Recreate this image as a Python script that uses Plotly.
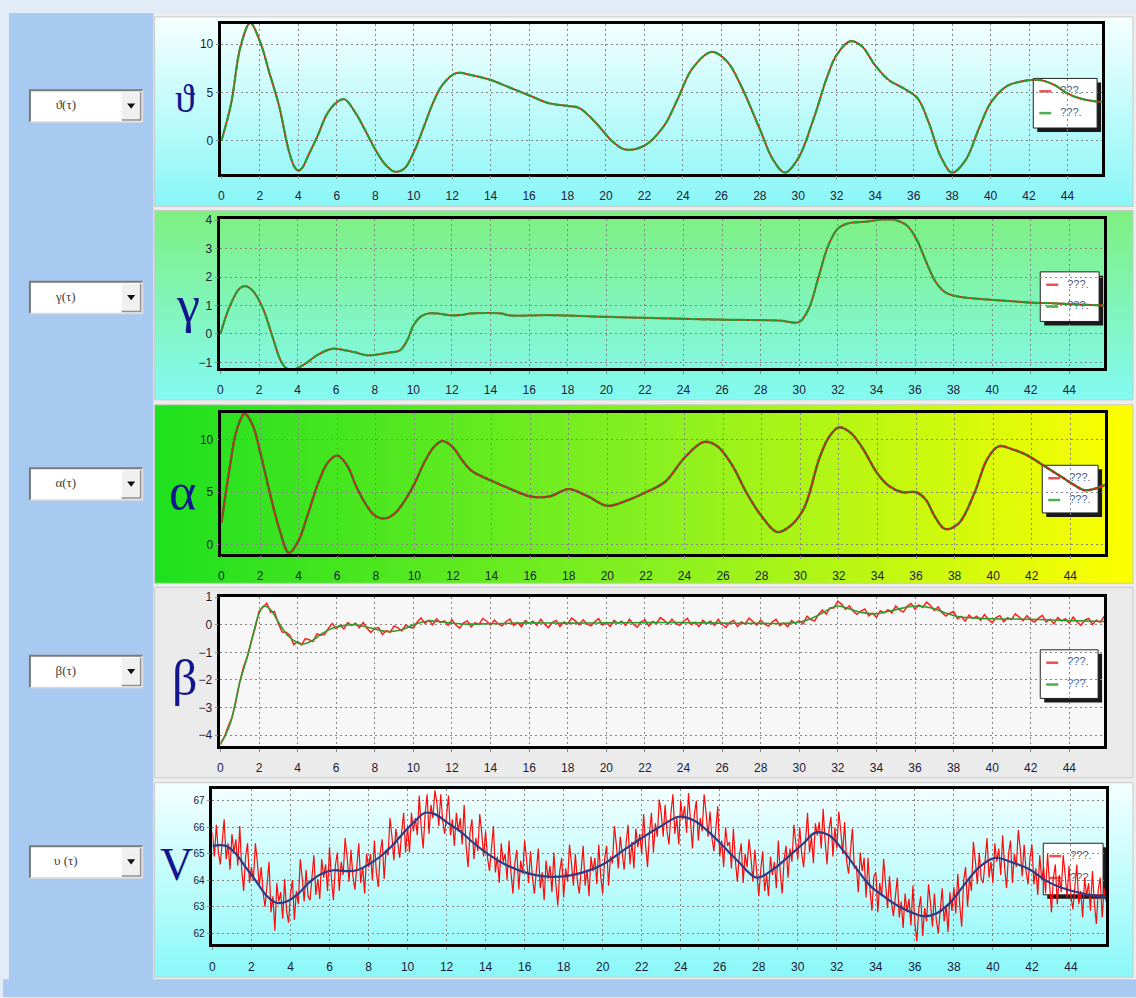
import numpy as np
import plotly.graph_objects as go

W, H = 1136, 998

# ---------------- data ----------------
x_ticks = list(range(0, 45, 2))
t_max = 45.8

theta_t = [0, 0.5, 1.0, 1.5, 2.0, 2.5, 3.0, 3.5, 3.8, 4.0, 4.2, 4.5, 5.0, 5.5, 6.0, 6.4, 7.0, 7.5, 8.0, 8.5,
           9.0, 9.5, 10.0, 10.5, 11.0, 11.5, 12.2, 13.0, 14.0, 15.0, 16.0, 17.0, 18.0, 18.6, 19.5, 20.3, 21.0,
           22.0, 23.0, 23.7, 24.5, 25.5, 26.3, 27.0, 28.0, 28.7, 29.3, 30.0, 30.8, 31.5, 32.0, 32.7, 33.3, 34.0,
           34.7, 35.5, 36.2, 36.8, 37.4, 38.0, 38.7, 39.4, 40.0, 40.8, 41.5, 42.5, 43.3, 44.0, 44.8, 45.8]
theta_v = [0, 3.8, 9.8, 12.2, 10.3, 7.0, 3.6, -1.0, -2.7, -3.1, -2.8, -1.6, 0.5, 2.8, 4.0, 4.3, 2.8, 1.0, -0.9, -2.4,
           -3.2, -2.9, -1.2, 1.3, 3.9, 5.8, 7.0, 6.8, 6.3, 5.5, 4.7, 3.9, 3.6, 3.4, 1.8, 0.0, -0.9,
           -0.5, 1.5, 4.2, 7.5, 9.2, 8.2, 5.8, 1.2, -2.0, -3.3, -1.8, 2.3, 6.6, 8.9, 10.3, 9.8, 7.8,
           6.3, 5.4, 4.4, 1.8, -1.6, -3.3, -2.0, 1.3, 3.9, 5.6, 6.1, 6.3, 5.8, 4.9, 4.3, 4.0]

gamma_t = [0, 0.5, 1.0, 1.3, 1.7, 2.2, 2.7, 3.1, 3.4, 3.7, 4.0, 4.5, 5.0, 5.8, 6.5, 7.0, 7.6, 8.2, 8.8, 9.3,
           9.7, 10.0, 10.4, 10.8, 11.2, 12.0, 12.5, 13.0, 14.5, 15.0, 17.0, 20.0, 23.0, 26.0, 29.0, 30.0, 30.5,
           31.0, 31.5, 32.0, 32.5, 33.5, 34.3, 35.0, 35.6, 36.1, 36.6, 37.1, 37.6, 38.2, 39.0, 40.0, 41.0, 42.0,
           43.0, 44.0, 45.0, 45.8]
gamma_v = [0, 1.0, 1.6, 1.68, 1.5, 0.9, -0.1, -0.9, -1.2, -1.25, -1.2, -1.0, -0.75, -0.52, -0.58, -0.65, -0.75,
           -0.72, -0.65, -0.58, -0.2, 0.3, 0.62, 0.72, 0.72, 0.65, 0.67, 0.72, 0.72, 0.65, 0.66, 0.6, 0.55, 0.5,
           0.47, 0.42, 0.9, 2.0, 3.1, 3.7, 3.88, 3.95, 4.02, 4.0, 3.8, 3.3, 2.5, 1.8, 1.45, 1.32, 1.25, 1.2, 1.15,
           1.1, 1.08, 1.05, 1.02, 1.0]

alpha_t = [0, 0.4, 0.8, 1.2, 1.6, 2.0, 2.5, 3.0, 3.5, 4.0, 4.5, 5.0, 5.5, 6.0, 6.5, 7.0, 7.5, 8.0, 8.5, 9.0,
           9.5, 10.0, 10.5, 11.0, 11.45, 12.0, 12.5, 13.0, 14.0, 15.0, 16.0, 17.0, 18.0, 19.0, 20.0, 21.0, 22.0,
           23.0, 24.0, 25.0, 25.7, 26.5, 27.2, 28.0, 28.8, 29.5, 30.2, 31.0, 31.5, 32.0, 32.6, 33.2, 34.0, 34.6,
           35.3, 36.0, 36.5, 37.0, 37.5, 38.2, 39.0, 39.7, 40.3, 41.0, 41.7, 42.4, 43.0, 43.6, 44.2, 44.7, 45.2, 45.8]
alpha_v = [2.1, 7.0, 11.0, 12.5, 11.5, 8.9, 5.0, 1.5, -0.8, 0.4, 3.0, 5.8, 7.8, 8.5, 7.6, 5.5, 3.8, 2.7, 2.5, 3.0,
           4.2, 5.8, 7.8, 9.3, 9.9, 9.3, 8.0, 7.0, 6.1, 5.3, 4.6, 4.6, 5.3, 4.6, 3.7, 4.2, 5.0,
           6.0, 8.3, 9.8, 9.4, 7.5, 5.0, 2.7, 1.2, 1.8, 3.5, 8.3, 10.3, 11.2, 10.7, 9.3, 6.8, 5.6,
           5.0, 5.0, 4.3, 2.6, 1.5, 2.0, 4.8, 8.2, 9.4, 9.1, 8.6, 7.8, 7.1, 6.4, 5.7, 5.2, 5.3, 5.7]

beta_t = [0, 0.5, 1.0, 1.5, 1.8, 2.0, 2.25, 2.6, 3.0, 3.5, 4.0, 4.3, 4.7, 5.2, 5.7, 6.2, 7.0, 7.8, 8.7, 9.5,
          10.2, 10.8, 11.5, 12.5, 14.0, 16.0, 18.0, 20.0, 22.0, 24.0, 26.0, 28.0, 29.5, 30.3, 31.0, 31.5, 32.0,
          32.5, 33.2, 34.0, 35.0, 36.0, 36.8, 37.5, 38.2, 39.0, 40.0, 42.0, 44.0, 45.8]
beta_v = [-4.35, -3.6, -2.1, -0.9, -0.05, 0.4, 0.68, 0.55, 0.1, -0.4, -0.65, -0.7, -0.6, -0.35, -0.15, -0.05, 0.0,
          -0.12, -0.25, -0.15, 0.05, 0.14, 0.1, 0.03, 0.04, 0.07, 0.06, 0.07, 0.08, 0.08, 0.06, 0.05, 0.06, 0.15,
          0.35, 0.55, 0.68, 0.6, 0.45, 0.4, 0.55, 0.68, 0.62, 0.45, 0.3, 0.25, 0.22, 0.2, 0.15, 0.12]

# measured beta, sampled every 0.2
beta_meas_dt = 0.2
beta_meas = [
    -4.31, -4.08, -3.69, -3.37, -2.80, -2.07, -1.52, -1.14, -0.59, -0.12,
    0.49, 0.63, 0.78, 0.46, 0.48, 0.05, -0.26, -0.27, -0.38, -0.72,
    -0.61, -0.73, -0.50, -0.54, -0.61, -0.33, -0.38, -0.35, -0.12, 0.05,
    -0.14, -0.02, -0.15, 0.08, -0.02, 0.06, -0.11, 0.08, -0.13, -0.28,
    -0.13, -0.10, -0.35, -0.21, -0.27, -0.04, -0.11, -0.22, 0.00, -0.09,
    -0.11, 0.10, 0.25, 0.05, 0.16, 0.00, 0.21, 0.08, 0.14, -0.02,
    0.18, -0.01, -0.12, 0.07, 0.14, -0.08, 0.08, 0.01, 0.23, 0.13,
    -0.01, 0.17, 0.03, -0.04, 0.11, 0.21, -0.02, 0.08, -0.07, 0.15,
    0.05, 0.13, -0.02, 0.20, 0.02, -0.10, 0.09, 0.16, -0.06, 0.10,
    0.03, 0.24, 0.14, 0.00, 0.18, 0.03, -0.04, 0.11, 0.22, -0.01,
    0.09, -0.06, 0.16, 0.05, 0.13, -0.02, 0.20, 0.02, -0.09, 0.10,
    0.18, -0.04, 0.12, 0.05, 0.26, 0.16, 0.02, 0.20, 0.05, -0.02,
    0.13, 0.23, 0.00, 0.09, -0.06, 0.16, 0.05, 0.13, -0.02, 0.20,
    0.01, -0.10, 0.09, 0.16, -0.06, 0.10, 0.03, 0.24, 0.13, -0.01,
    0.17, 0.02, -0.05, 0.10, 0.20, -0.03, 0.07, -0.07, 0.15, 0.05,
    0.15, 0.03, 0.31, 0.19, 0.14, 0.38, 0.53, 0.39, 0.62, 0.61,
    0.86, 0.74, 0.56, 0.69, 0.49, 0.38, 0.50, 0.57, 0.32, 0.42,
    0.27, 0.51, 0.43, 0.55, 0.43, 0.68, 0.54, 0.46, 0.68, 0.77,
    0.56, 0.72, 0.63, 0.82, 0.70, 0.52, 0.65, 0.44, 0.32, 0.42,
    0.48, 0.22, 0.30, 0.14, 0.35, 0.23, 0.31, 0.16, 0.37, 0.19,
    0.08, 0.26, 0.33, 0.11, 0.26, 0.19, 0.40, 0.29, 0.15, 0.33,
    0.17, 0.10, 0.24, 0.34, 0.10, 0.20, 0.04, 0.26, 0.14, 0.22,
    0.06, 0.28, 0.10, -0.02, 0.17, 0.23, 0.01, 0.17, 0.09, 0.30,
]

vel_t = [0, 0.7, 1.2, 1.7, 2.3, 2.8, 3.3, 3.8, 4.4, 5.0, 5.6, 6.2, 6.8, 7.4, 8.0, 8.6, 9.2, 9.8, 10.4, 10.9,
         11.4, 12.0, 12.7, 13.4, 14.2, 15.0, 16.0, 17.0, 18.0, 19.0, 20.0, 21.0, 22.0, 23.0, 23.9, 24.7, 25.4,
         26.1, 26.9, 27.9, 28.8, 29.6, 30.3, 30.9, 31.6, 32.3, 33.0, 33.7, 34.4, 35.1, 35.8, 36.4, 37.1, 37.8,
         38.5, 39.3, 40.1, 40.9, 41.9, 42.8, 43.6, 44.5, 45.2, 45.8]
vel_v = [65.3, 65.3, 65.0, 64.5, 63.9, 63.4, 63.15, 63.2, 63.5, 63.95, 64.25, 64.38, 64.35, 64.38, 64.6, 64.9,
         65.3, 65.8, 66.25, 66.55, 66.5, 66.2, 65.85, 65.4, 64.95, 64.6, 64.3, 64.15, 64.15, 64.3, 64.6, 65.1,
         65.6, 66.05, 66.4, 66.25, 65.85, 65.35, 64.75, 64.1, 64.45, 64.95, 65.4, 65.8, 65.7, 65.15, 64.45, 63.8,
         63.4, 63.05, 62.8, 62.65, 62.75, 63.15, 63.8, 64.5, 64.85, 64.7, 64.4, 63.95, 63.7, 63.52, 63.42, 63.35]

# measured speed, sampled every 0.1
vel_meas_dt = 0.1
vel_meas = [
    65.8, 64.9, 66.1, 65.1, 64.6, 65.6, 66.3, 64.8, 65.4, 64.4,
    65.75, 65.05, 65.55, 64.55, 66.05, 64.4, 63.6, 64.9, 65.4, 63.9,
    64.5, 64.0, 65.4, 64.7, 63.8, 64.5, 63.5, 63.0, 64.0, 64.7,
    62.8, 63.4, 62.1, 63.9, 63.2, 63.55, 62.55, 64.05, 62.85, 62.4,
    63.5, 64.0, 62.5, 63.6, 63.1, 64.8, 64.1, 63.2, 64.4, 63.4,
    63.25, 64.25, 64.95, 63.45, 64.05, 63.3, 64.8, 64.1, 64.6, 63.6,
    65.25, 64.05, 63.25, 64.55, 65.05, 63.6, 64.7, 64.2, 65.6, 64.9,
    63.95, 65.15, 64.15, 63.65, 64.65, 65.4, 63.9, 64.5, 63.5, 65.0,
    64.5, 65.0, 64.0, 65.5, 64.3, 63.75, 65.05, 65.55, 64.05, 65.15,
    64.95, 66.35, 65.65, 64.75, 65.95, 65.35, 64.85, 65.85, 66.55, 65.05,
    66.05, 65.05, 66.55, 65.85, 66.35, 65.7, 67.2, 66.0, 65.2, 66.5,
    67.25, 65.75, 66.85, 66.35, 67.4, 66.95, 66.05, 67.25, 66.25, 65.75,
    66.5, 67.2, 65.7, 66.3, 65.3, 66.55, 65.85, 66.35, 65.35, 66.85,
    65.3, 64.5, 65.8, 66.3, 64.8, 65.6, 65.1, 66.5, 65.8, 64.9,
    65.85, 64.85, 64.35, 65.35, 66.05, 64.3, 64.9, 63.9, 65.4, 64.7,
    65.0, 64.0, 65.5, 64.3, 63.5, 64.65, 65.15, 63.65, 64.75, 64.25,
    65.5, 64.8, 63.9, 65.1, 64.1, 63.5, 64.5, 65.2, 63.7, 64.3,
    63.25, 64.75, 64.05, 64.55, 63.55, 65.05, 63.85, 63.05, 64.35, 64.85,
    63.35, 64.45, 63.95, 65.35, 64.65, 63.8, 65.0, 64.0, 63.5, 64.5,
    65.3, 63.8, 64.4, 63.4, 64.9, 64.35, 64.85, 63.85, 65.35, 64.15,
    63.5, 64.8, 65.3, 63.8, 64.9, 64.65, 66.05, 65.35, 64.45, 65.65,
    64.9, 64.4, 65.4, 66.1, 64.6, 65.45, 64.45, 65.95, 65.25, 65.75,
    65.0, 66.5, 65.3, 64.5, 65.8, 66.55, 65.05, 66.15, 65.65, 67.05,
    66.55, 65.65, 66.85, 65.85, 65.35, 66.55, 67.25, 65.75, 66.35, 65.35,
    67.0, 66.3, 66.8, 65.8, 67.3, 66.0, 65.2, 66.5, 67.0, 65.5,
    66.35, 65.85, 67.25, 66.55, 65.65, 66.6, 65.6, 65.1, 66.1, 66.8,
    64.9, 65.5, 64.5, 66.0, 65.3, 65.45, 64.45, 65.95, 64.75, 63.95,
    64.9, 65.4, 63.9, 65.0, 64.5, 65.55, 64.85, 63.95, 65.15, 64.15,
    63.4, 64.4, 65.1, 63.6, 64.2, 63.4, 64.9, 64.2, 64.7, 63.7,
    65.5, 64.3, 63.5, 64.8, 65.3, 64.1, 65.2, 64.7, 66.1, 65.4,
    64.8, 66.0, 65.0, 64.5, 65.5, 66.55, 65.05, 65.65, 64.65, 66.15,
    65.7, 66.2, 65.2, 66.7, 65.5, 64.6, 65.9, 66.4, 64.9, 66.0,
    65.2, 66.6, 65.9, 65.0, 66.2, 64.75, 64.25, 65.25, 65.95, 64.45,
    64.55, 63.55, 65.05, 64.35, 64.85, 63.35, 64.85, 63.65, 62.85, 64.15,
    64.3, 62.8, 63.9, 63.4, 64.8, 63.85, 62.95, 64.15, 63.15, 62.65,
    63.4, 64.1, 62.6, 63.2, 62.2, 63.5, 62.8, 63.3, 62.3, 63.8,
    62.4, 61.7, 62.9, 63.4, 61.9, 62.95, 62.45, 63.85, 63.15, 62.25,
    63.5, 62.5, 62.0, 63.0, 63.7, 62.45, 63.05, 62.05, 63.55, 62.85,
    63.75, 62.75, 64.25, 63.05, 62.25, 64.0, 64.5, 63.0, 64.1, 63.6,
    65.45, 64.75, 63.85, 65.05, 64.05, 63.9, 64.9, 65.6, 64.1, 64.7,
    63.9, 65.4, 64.7, 65.2, 64.2, 65.7, 64.5, 63.7, 65.0, 65.5,
    63.9, 65.0, 64.5, 65.9, 65.2, 64.15, 65.35, 64.35, 63.85, 64.85,
    65.35, 63.85, 64.45, 63.45, 64.95, 64.0, 64.5, 63.5, 65.0, 63.8,
    62.8, 64.1, 64.6, 63.1, 64.2, 63.55, 64.95, 64.25, 63.35, 64.55,
    63.4, 62.9, 63.9, 64.6, 63.1, 63.6, 62.6, 64.1, 63.4, 63.9,
    62.85, 64.35, 63.15, 62.35, 63.65, 64.1, 62.6, 63.7, 63.2,
]

for a, b in [(theta_t, theta_v), (gamma_t, gamma_v), (alpha_t, alpha_v), (beta_t, beta_v), (vel_t, vel_v)]:
    assert len(a) == len(b)

beta_meas_t = np.arange(len(beta_meas)) * beta_meas_dt
vel_meas_t = np.arange(len(vel_meas)) * vel_meas_dt

# ---------------- colours ----------------
LEFT_BLUE = "#A9CAF0"
RED = "#E8141A"
GREEN = "#2F9A2F"
DARK_GREEN = "#3C7424"
BLUE_LINE = "#2D3C86"
LETTER = "#12168C"
TICK_FONT = dict(family="Liberation Sans Narrow, Liberation Sans, Arial, sans-serif", size=12, color="#1B1B3A")

fig = go.Figure()


def bg(trace):
    trace.update(xaxis="x", yaxis="y", hoverinfo="skip", showlegend=False)
    fig.add_trace(trace)


def rect(x0, y0, x1, y1, fill=None, grad=None, border=None, bw=1):
    tr = go.Scatter(x=[x0, x1, x1, x0, x0], y=[y0, y0, y1, y1, y0], mode="lines", fill="toself",
                    line=dict(width=bw if border else 0, color=border or "rgba(0,0,0,0)"))
    if grad is not None:
        tr.fillgradient = grad
    else:
        tr.fillcolor = fill
    bg(tr)


def seg(xs, ys, color, width=1):
    bg(go.Scatter(x=xs, y=ys, mode="lines", line=dict(color=color, width=width)))


def vgrad(c0, c1, y0, y1):
    return dict(type="vertical", colorscale=[[0, c0], [1, c1]], start=y0, stop=y1)


# window frame and left strip
rect(0, 0, W, H, fill="#E2ECF7")
rect(6, 6, 151, H, fill=LEFT_BLUE)
rect(151, 6, W, 980, fill="#EDEDED")
rect(0, 980, W, H, fill=LEFT_BLUE)

# panel backgrounds
rect(152, 10, 1133, 201, grad=vgrad("#F6FFFF", "#88F6F6", 10, 201), border="#C9C9C9")
rect(152, 205, 1133, 396, grad=vgrad("#7EF081", "#84FAF4", 205, 396), border="#C9C9C9")
rect(152, 401, 1133, 581,
     grad=dict(type="horizontal", colorscale=[[0, "#1EE01E"], [0.5, "#86F020"], [1, "#FFFF00"]],
               start=152, stop=1133), border="#C9C9C9")
rect(152, 585, 1133, 777, fill="#EBEBEB", border="#C9C9C9")
rect(218, 595, 1104, 745, fill="#F7F7F7")
rect(152, 782, 1133, 978, grad=vgrad("#F2FFFF", "#86F8F8", 782, 978), border="#C9C9C9")

# legend boxes (drawn beneath the curves)
legend_boxes = [(1033, 72, 1097, 122, GREEN), (1040, 267, 1099, 317, GREEN), (1042, 462, 1098, 510, GREEN),
                (1040, 648, 1098, 697, GREEN), (1043, 843, 1103, 895, BLUE_LINE)]
for (x0, y0, x1, y1, second) in legend_boxes:
    rect(x0 + 4, y0 + 4, x1 + 4, y1 + 4, fill="#1A1A1A")
    rect(x0, y0, x1, y1, fill="#FFFFFF", border="#222222", bw=1)
    seg([x0 + 6, x0 + 18], [y0 + 13, y0 + 13], "#F05050", 2.5)
    seg([x0 + 6, x0 + 18], [y0 + 35, y0 + 35], "#4DAF4D" if second == GREEN else "#F05050", 2.5)
    bg(go.Scatter(x=[x0 + 27, x0 + 27], y=[y0 + 13, y0 + 35], mode="text", text=["???.", "???."],
                  textposition="middle right",
                  textfont=dict(family="Liberation Sans, Arial, sans-serif", size=11, color="#4C5F86")))

# selector boxes on the left strip
selectors = [("\u03d1(\u03c4)", 100), ("\u03b3(\u03c4)", 293), ("\u03b1(\u03c4)", 481),
             ("\u03b2(\u03c4)", 670), ("\u03c5 (\u03c4)", 862)]
for label, cy in selectors:
    y0, y1 = cy - 16, cy + 16
    rect(27, y0, 140, y1, fill="#FFFFFF")
    seg([27, 27, 140], [y1, y0, y0], "#7A7A7A", 2)
    seg([27, 140, 140], [y1, y1, y0], "#DADADA", 1.5)
    rect(119, y0 + 2, 138, y1 - 2, fill="#F0F0F0")
    seg([119, 138, 138], [y1 - 2, y1 - 2, y0 + 2], "#8E8E8E", 1.5)
    bg(go.Scatter(x=[128.5], y=[cy - 1], mode="markers",
                  marker=dict(symbol="triangle-down", size=7, color="#111111")))
    bg(go.Scatter(x=[63], y=[cy], mode="text", text=[label], textposition="middle center",
                  textfont=dict(family="Liberation Serif, DejaVu Serif, serif", size=13, color="#404040")))

# ---------------- data panels ----------------
panels = [
    # plot area in pixels (x0, y0, x1, y1), y range, y ticks, y tick font size
    dict(box=(219, 17, 1102, 168), yr=[-3.4, 12.1], yt=[0, 5, 10], fs=12),
    dict(box=(218, 214, 1104, 364), yr=[-1.2, 4.03], yt=[-1, 0, 1, 2, 3, 4], fs=12),
    dict(box=(219, 409, 1105, 551), yr=[-0.86, 12.6], yt=[0, 5, 10], fs=12),
    dict(box=(218, 595, 1104, 745), yr=[-4.4, 1.0], yt=[-4, -3, -2, -1, 0, 1], fs=12),
    dict(box=(210, 788, 1106, 945), yr=[61.58, 67.46], yt=[62, 63, 64, 65, 66, 67], fs=10),
]

layout_axes = {}
for i, p in enumerate(panels):
    k = i + 2
    x0, y0, x1, y1 = p["box"]
    common = dict(showgrid=True, gridcolor="#868686", gridwidth=1, griddash="2px,3px", zeroline=False,
                  showline=True, linecolor="#000000", linewidth=2.5, mirror=True,
                  ticks="outside", ticklen=3, tickcolor="#8C8C8C", fixedrange=True)
    layout_axes[f"xaxis{k}"] = dict(domain=[x0 / W, x1 / W], range=[0, t_max], anchor=f"y{k}",
                                    tickvals=x_ticks, tickfont=TICK_FONT, ticklabelstandoff=6, **common)
    layout_axes[f"yaxis{k}"] = dict(domain=[1 - y1 / H, 1 - y0 / H], range=p["yr"], anchor=f"x{k}",
                                    tickvals=p["yt"], tickfont=dict(TICK_FONT, size=p["fs"]), **common)


def data_line(x, y, k, color, width, dash="solid", shape="spline"):
    fig.add_trace(go.Scatter(x=x, y=y, mode="lines", xaxis=f"x{k}", yaxis=f"y{k}",
                             line=dict(color=color, width=width, dash=dash, shape=shape, smoothing=1.0),
                             showlegend=False, hoverinfo="skip"))


# theta
data_line(theta_t, theta_v, 2, RED, 1.8)
data_line(theta_t, theta_v, 2, GREEN, 2.2, dash="8px,2px")
# gamma
data_line(gamma_t, gamma_v, 3, RED, 1.8)
data_line(gamma_t, gamma_v, 3, GREEN, 2.2, dash="8px,2px")
# alpha
data_line(alpha_t, alpha_v, 4, DARK_GREEN, 2.4)
data_line(alpha_t, alpha_v, 4, "#D8261E", 2.2, dash="dot")
# beta
data_line(beta_meas_t, beta_meas, 5, "#FF1E1E", 1.5, shape="linear")
data_line(beta_t, beta_v, 5, GREEN, 1.6)
# speed
data_line(vel_meas_t, vel_meas, 6, "#FF0A0A", 1.2, shape="linear")
data_line(vel_t, vel_v, 6, BLUE_LINE, 2.2)

# panel symbols
symbols = [("\u03d1", 182, 92, 40), ("\u03b3", 185, 300, 52), ("\u03b1", 180, 488, 52),
           ("\u03b2", 182, 676, 50), ("V", 174, 864, 46)]
annotations = []
for s, px, py, size in symbols:
    annotations.append(dict(text=s, x=px / W, y=1 - py / H, xref="paper", yref="paper",
                            xanchor="center", yanchor="middle", showarrow=False,
                            font=dict(family="Liberation Serif, DejaVu Serif, serif", size=size, color=LETTER)))

fig.update_layout(
    width=W, height=H, autosize=False,
    margin=dict(l=0, r=0, t=0, b=0, pad=0),
    paper_bgcolor="#E2ECF7", plot_bgcolor="rgba(0,0,0,0)",
    showlegend=False,
    xaxis=dict(domain=[0, 1], range=[0, W], visible=False, fixedrange=True),
    yaxis=dict(domain=[0, 1], range=[H, 0], visible=False, fixedrange=True),
    annotations=annotations,
    **layout_axes,
)

fig.write_html("out.html")
